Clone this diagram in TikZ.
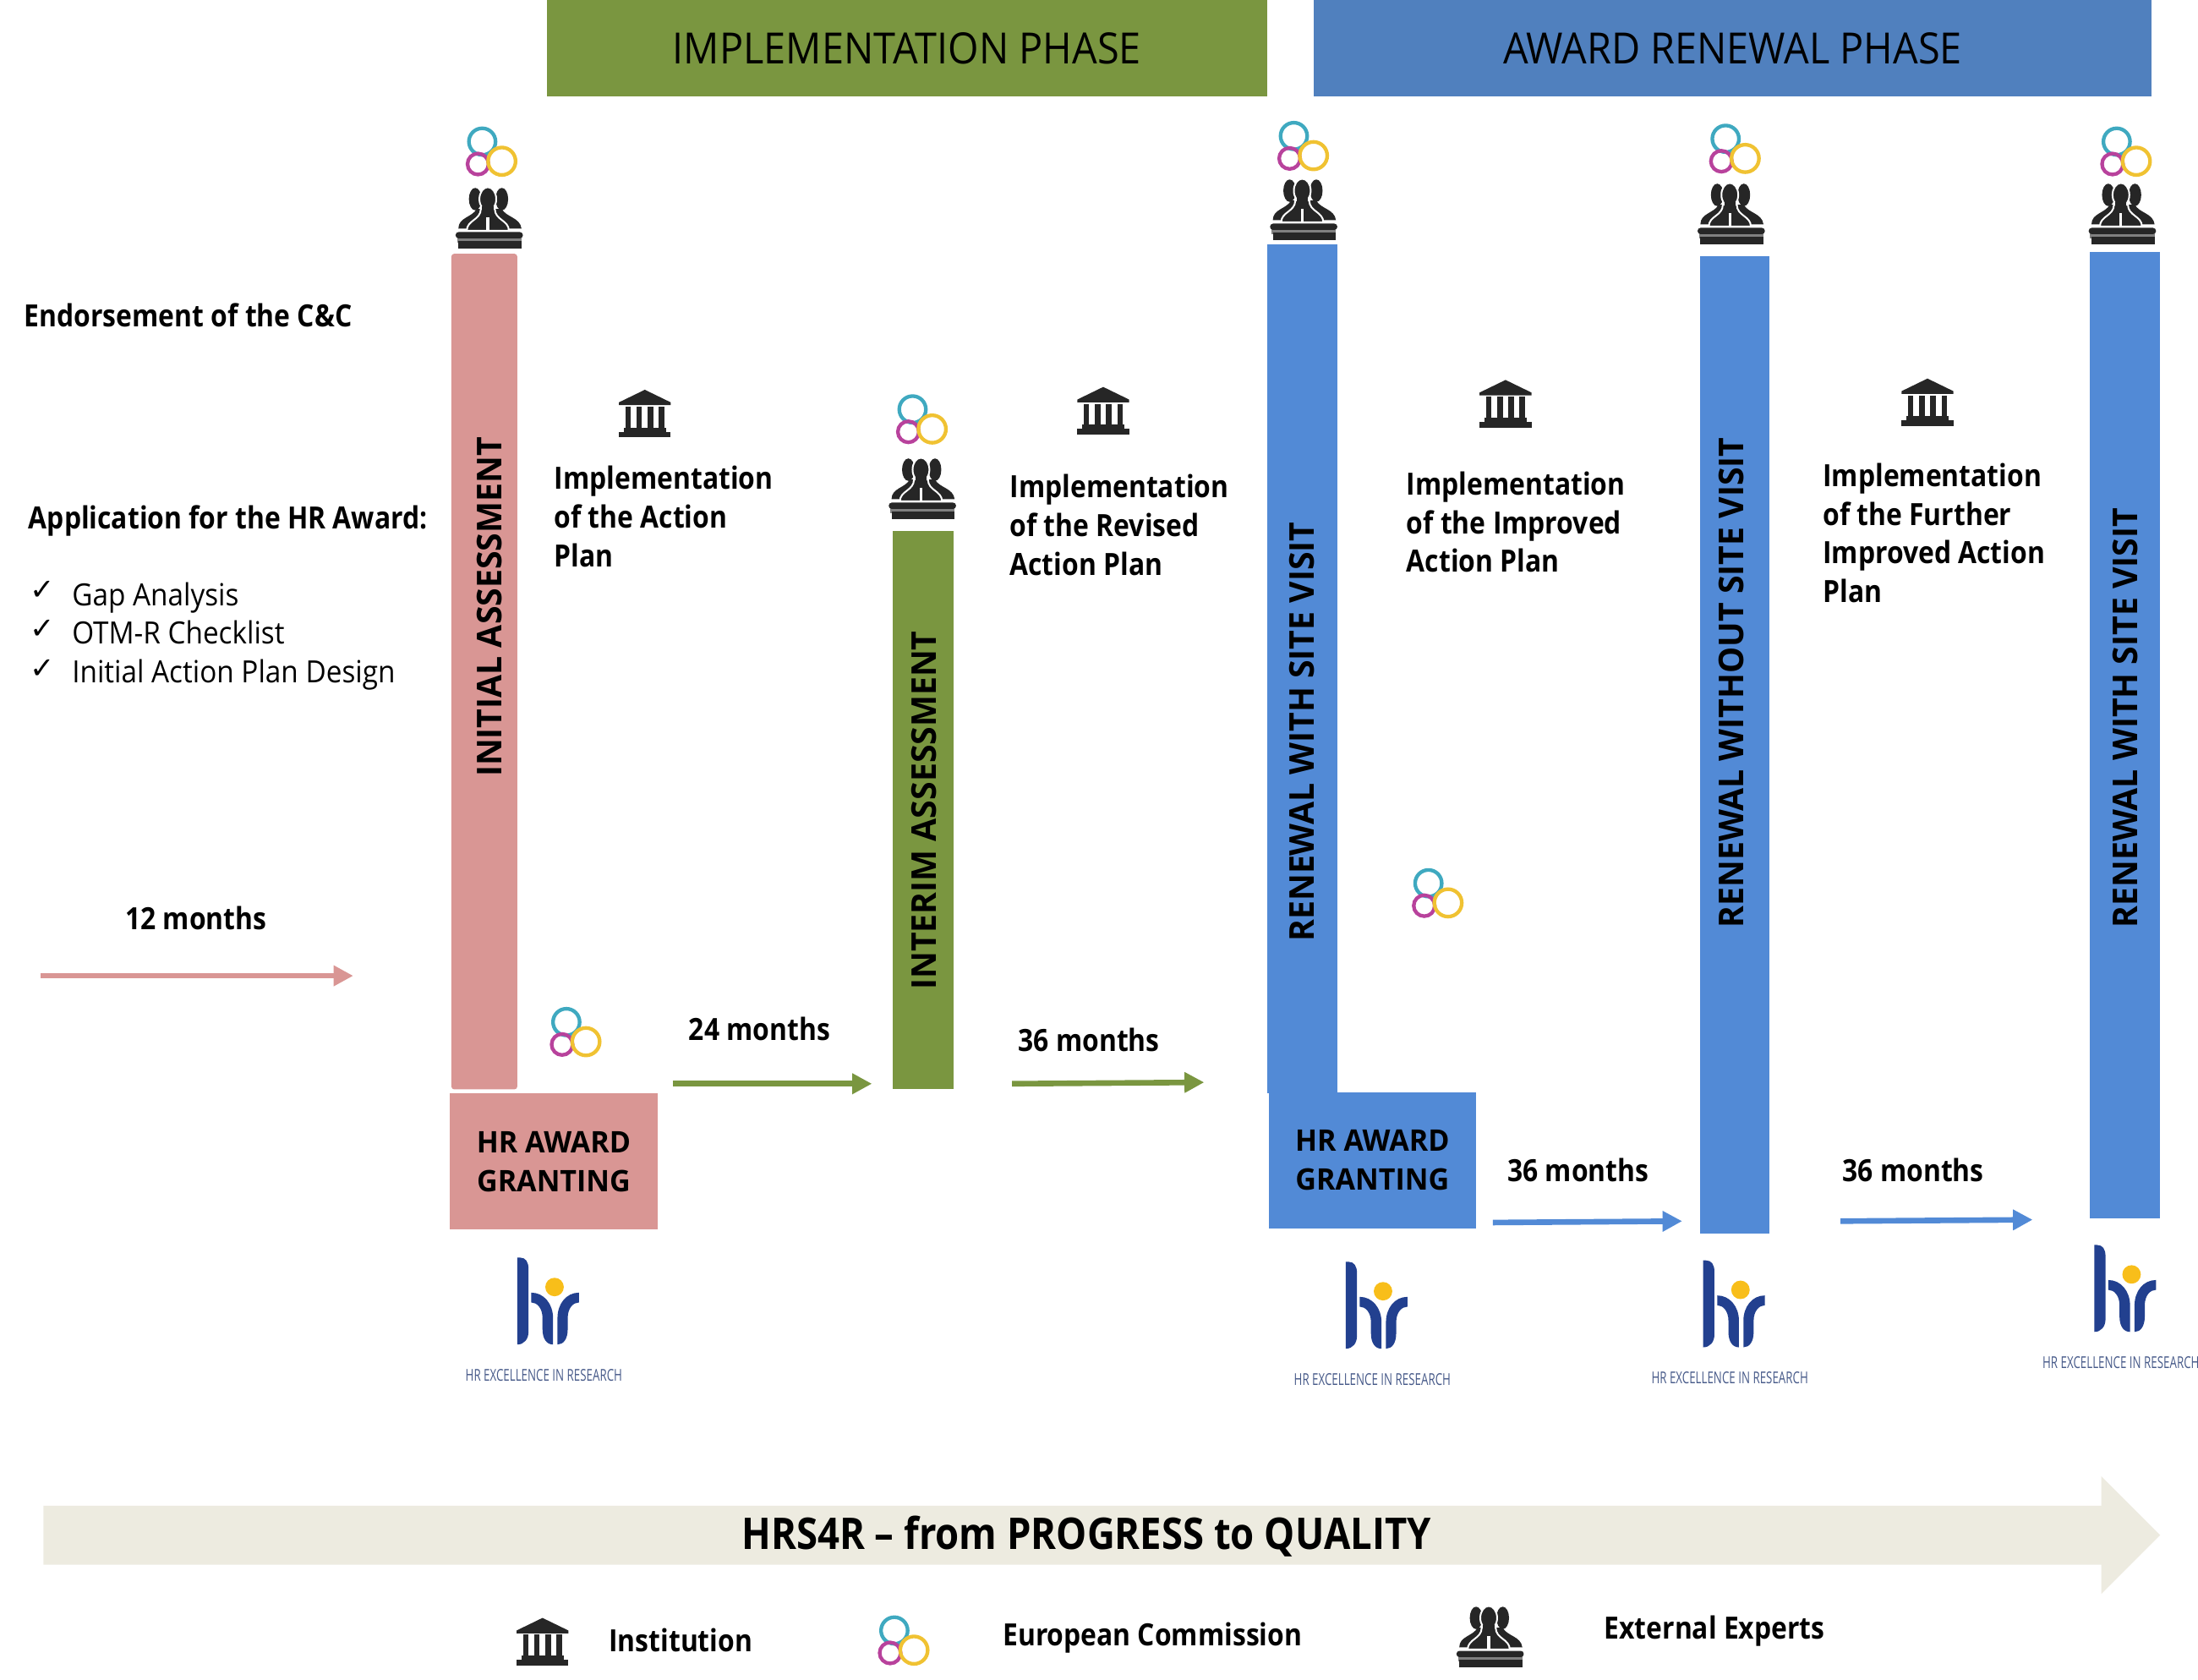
\documentclass[tikz,border=0pt]{standalone}
\usepackage{fontspec}
\setmainfont{Open Sans}[FakeStretch=0.92,BoldFeatures={FakeStretch=0.88}]
\newfontfamily\capsfont{Open Sans}[FakeStretch=0.97,BoldFeatures={FakeStretch=0.97}]
\newfontfamily\checkfont{DejaVu Sans}
\usetikzlibrary{arrows.meta}
\definecolor{rose}{HTML}{D99694}
\definecolor{olive}{HTML}{7A9640}
\definecolor{phaseblue}{HTML}{5080BE}
\definecolor{barblue}{HTML}{528AD6}
\definecolor{cream}{HTML}{EDEBE0}
\definecolor{hrblue}{HTML}{22408F}
\definecolor{hrgold}{HTML}{F8BE1A}
\definecolor{icondark}{HTML}{262626}
\definecolor{eccyan}{HTML}{3FA9C0}
\definecolor{ecmagenta}{HTML}{B8429C}
\definecolor{ecyellow}{HTML}{F0C232}
\def\un{0.01658cm}
\tikzset{
  bar/.style={inner sep=0pt,minimum width=#1*\un},
  phase/.style={inner sep=0pt,minimum height=69*\un,font=\fontsize{14.5}{17}\selectfont},
  vlabel/.style={rotate=90,inner sep=0pt,font=\capsfont\fontsize{11.5}{14}\bfseries\selectfont},
  granting/.style={align=center,inner sep=0pt,minimum width=148*\un,minimum height=97*\un,
    font=\capsfont\fontsize{10}{13}\bfseries\selectfont},
  txt/.style={anchor=base west,inner sep=0pt,font=\fontsize{10.3}{13}\bfseries\selectfont},
  plain/.style={anchor=base west,inner sep=0pt,font=\fontsize{10.3}{13}\selectfont},
  para/.style={anchor=north west,align=left,inner sep=0pt,font=\fontsize{10.3}{13}\bfseries\selectfont},
  span/.style={line width=4*\un,-{Triangle[length=14*\un,width=14*\un]}},
  ecring/.style={line width=2.6*\un,fill=none},
  ec/.pic={
    \draw[ecring,draw=eccyan] (-7,-7) circle (9.5);
    \draw[ecring,draw=ecmagenta] (-10,9) circle (7.5);
    \draw[ecring,draw=ecyellow] (7,7) circle (9.8);
  },
  experts/.pic={
    \fill[icondark] (-10,-13) ellipse (4.5 and 8);
    \fill[icondark] (9,-13) ellipse (4.5 and 8);
    \fill[icondark] (-22,8) .. controls (-22,0) and (-12,0) .. (-9,-6) -- (9,-6) .. controls (12,0) and (22,0) .. (23,8) -- cycle;
    \fill[icondark,draw=white,line width=1.2*\un] (-16,9.5) .. controls (-16,2) and (-6,2) .. (-6,-6) -- (4,-6) .. controls (4,2) and (14,2) .. (14,9.5) -- cycle;
    \fill[icondark,draw=white,line width=1.2*\un] (-1,-13) ellipse (6 and 8.5);
    \fill[icondark] (-5,-8) rectangle (3,2);
    \fill[white] (-2,0) rectangle (0,10);
    \fill[gray] (-23,13) rectangle (23,18);
    \fill[icondark,rounded corners=1] (-24,10.5) rectangle (24,15);
    \fill[icondark] (-22,17) rectangle (23,22);
  },
  institution/.pic={
    \fill[icondark] (-18.5,-8) -- (0,-17) -- (18.5,-8) -- (18.5,-6) -- (-18.5,-6) -- cycle;
    \foreach \cx in {-12,-4,4,12} {
      \fill[icondark] (\cx-2,-5) rectangle (\cx+2,10);
    }
    \fill[icondark] (-15,10) rectangle (15,13);
    \fill[icondark] (-18.5,13) rectangle (18.5,17);
  },
  hrlogo/.pic={
    \fill[hrblue] (-19,-43) -- (-17,-43) .. controls (-13,-43) and (-11,-40) .. (-11,-35) -- (-11,10) .. controls (-11,15) and (-14,19) .. (-19,19) -- cycle;
    \fill[hrblue] (-9,-18) .. controls (0,-18) and (6.5,-10) .. (6.5,0) -- (6.5,19) .. controls (2,19) and (-1,15) .. (-1,8) -- (-1,0) .. controls (-1,-7) and (-5,-11) .. (-9,-11) -- cycle;
    \fill[hrblue] (25,-18) .. controls (16,-18) and (9.7,-10) .. (9.7,0) -- (9.7,19) .. controls (14,19) and (17,15) .. (17,8) -- (17,0) .. controls (17,-7) and (21,-11) .. (25,-11) -- cycle;
    \fill[hrgold] (7.6,-22) circle (6.6);
    \node[inner sep=0pt,xscale=0.75,text=hrblue!60!gray,font=\fontsize{5.5}{6}\selectfont] at (0,41) {HR EXCELLENCE IN RESEARCH};
  },
}
\begin{document}
\begin{tikzpicture}[x=\un,y=-\un]
  \useasboundingbox (0,0) rectangle (1568,1198.2);
  % phases
  \node[phase,fill=olive,minimum width=514*\un] (implementation) at (647,34.5) {IMPLEMENTATION PHASE};
  \node[phase,fill=phaseblue,minimum width=598*\un] (renewal) at (1236,34.5) {AWARD RENEWAL PHASE};
  % bars
  \node[bar=47,fill=rose,rounded corners=2*\un,minimum height=596*\un] (initial) at (345.5,479) {};
  \node[bar=43,fill=olive,minimum height=398*\un] (interim) at (658.5,578) {};
  \node[bar=50,fill=barblue,minimum height=606*\un] (site1) at (929,477) {};
  \node[bar=49,fill=barblue,minimum height=697*\un] (nosite) at (1237.5,531.5) {};
  \node[bar=50,fill=barblue,minimum height=689*\un] (site2) at (1516,524.5) {};
  \node[vlabel] (initiallabel) at (349,433) {INITIAL ASSESSMENT};
  \node[vlabel] (interimlabel) at (659,578) {INTERIM ASSESSMENT};
  \node[vlabel] (site1label) at (929,522) {RENEWAL WITH SITE VISIT};
  \node[vlabel] (nositelabel) at (1235,487) {RENEWAL WITHOUT SITE VISIT};
  \node[vlabel] (site2label) at (1516,512) {RENEWAL WITH SITE VISIT};
  \node[granting,fill=rose] (grant1) at (395,828.5) {HR AWARD\\GRANTING};
  \node[granting,fill=barblue] (grant2) at (979,827.5) {HR AWARD\\GRANTING};
  % left column
  \node[txt] (endorse) at (17,233) {Endorsement of the C\&C};
  \node[txt] (apply) at (20,377) {Application for the HR Award:};
  \node[plain] (gap) at (51,432) {Gap Analysis};
  \node[plain] (otm) at (51,459) {OTM-R Checklist};
  \node[plain] (design) at (51,487) {Initial Action Plan Design};
  \node[inner sep=0pt,font=\checkfont\fontsize{10}{12}\selectfont] (check1) at (30,421) {✓};
  \node[inner sep=0pt,font=\checkfont\fontsize{10}{12}\selectfont] (check2) at (30,449) {✓};
  \node[inner sep=0pt,font=\checkfont\fontsize{10}{12}\selectfont] (check3) at (30,477) {✓};
  % action plans
  \node[para] (plan1) at (395,332) {Implementation\\of the Action\\Plan};
  \node[para] (plan2) at (720,338) {Implementation\\of the Revised\\Action Plan};
  \node[para] (plan3) at (1003,336) {Implementation\\of the Improved\\Action Plan};
  \node[para] (plan4) at (1300,330) {Implementation\\of the Further\\Improved Action\\Plan};
  % durations
  \node[txt] (m12) at (89,663) {12 months};
  \node[txt] (m24) at (491,742) {24 months};
  \node[txt] (m36a) at (726,750) {36 months};
  \node[txt] (m36b) at (1075,843) {36 months};
  \node[txt] (m36c) at (1314,843) {36 months};
  \coordinate (a1) at (29,696);
  \coordinate (b1) at (252,696);
  \coordinate (a2) at (480,773);
  \coordinate (b2) at (622,773);
  \coordinate (a3) at (722,773);
  \coordinate (b3) at (859,772);
  \coordinate (a4) at (1065,872);
  \coordinate (b4) at (1200,871);
  \coordinate (a5) at (1313,871);
  \coordinate (b5) at (1450,870);
  \draw[span,rose] (a1) -- (b1);
  \draw[span,olive] (a2) -- (b2);
  \draw[span,olive] (a3) -- (b3);
  \draw[span,barblue] (a4) -- (b4);
  \draw[span,barblue] (a5) -- (b5);
  % icons
  \foreach \ex/\ey in {351/108,930/104,1238/106,1517/108,658/299,1026/637,411/736,645/1170} {
    \pic at (\ex,\ey) {ec};
  }
  \foreach \px/\py in {349/155,930/149,1235/152,1514/152,658/348,1063/1167} {
    \pic at (\px,\py) {experts};
  }
  \foreach \ix/\iy in {460/295,787/293,1074/288,1375/287,387/1171} {
    \pic at (\ix,\iy) {institution};
  }
  \foreach \hx/\hy in {388/940,979/943,1234/942,1513/931} {
    \pic at (\hx,\hy) {hrlogo};
  }
  % timeline
  \fill[cream] (31,1074) -- (1499,1074) -- (1499,1053) -- (1541,1095) -- (1499,1137) -- (1499,1116) -- (31,1116) -- cycle;
  \node[inner sep=0pt,font=\fontsize{14.7}{17}\bfseries\selectfont] (timeline) at (775,1096) {HRS4R -- from PROGRESS to QUALITY};
  % legend
  \node[txt] (leginst) at (434,1178) {Institution};
  \node[txt] (legec) at (715,1174) {European Commission};
  \node[txt] (legexp) at (1144,1169) {External Experts};
\end{tikzpicture}
\end{document}
